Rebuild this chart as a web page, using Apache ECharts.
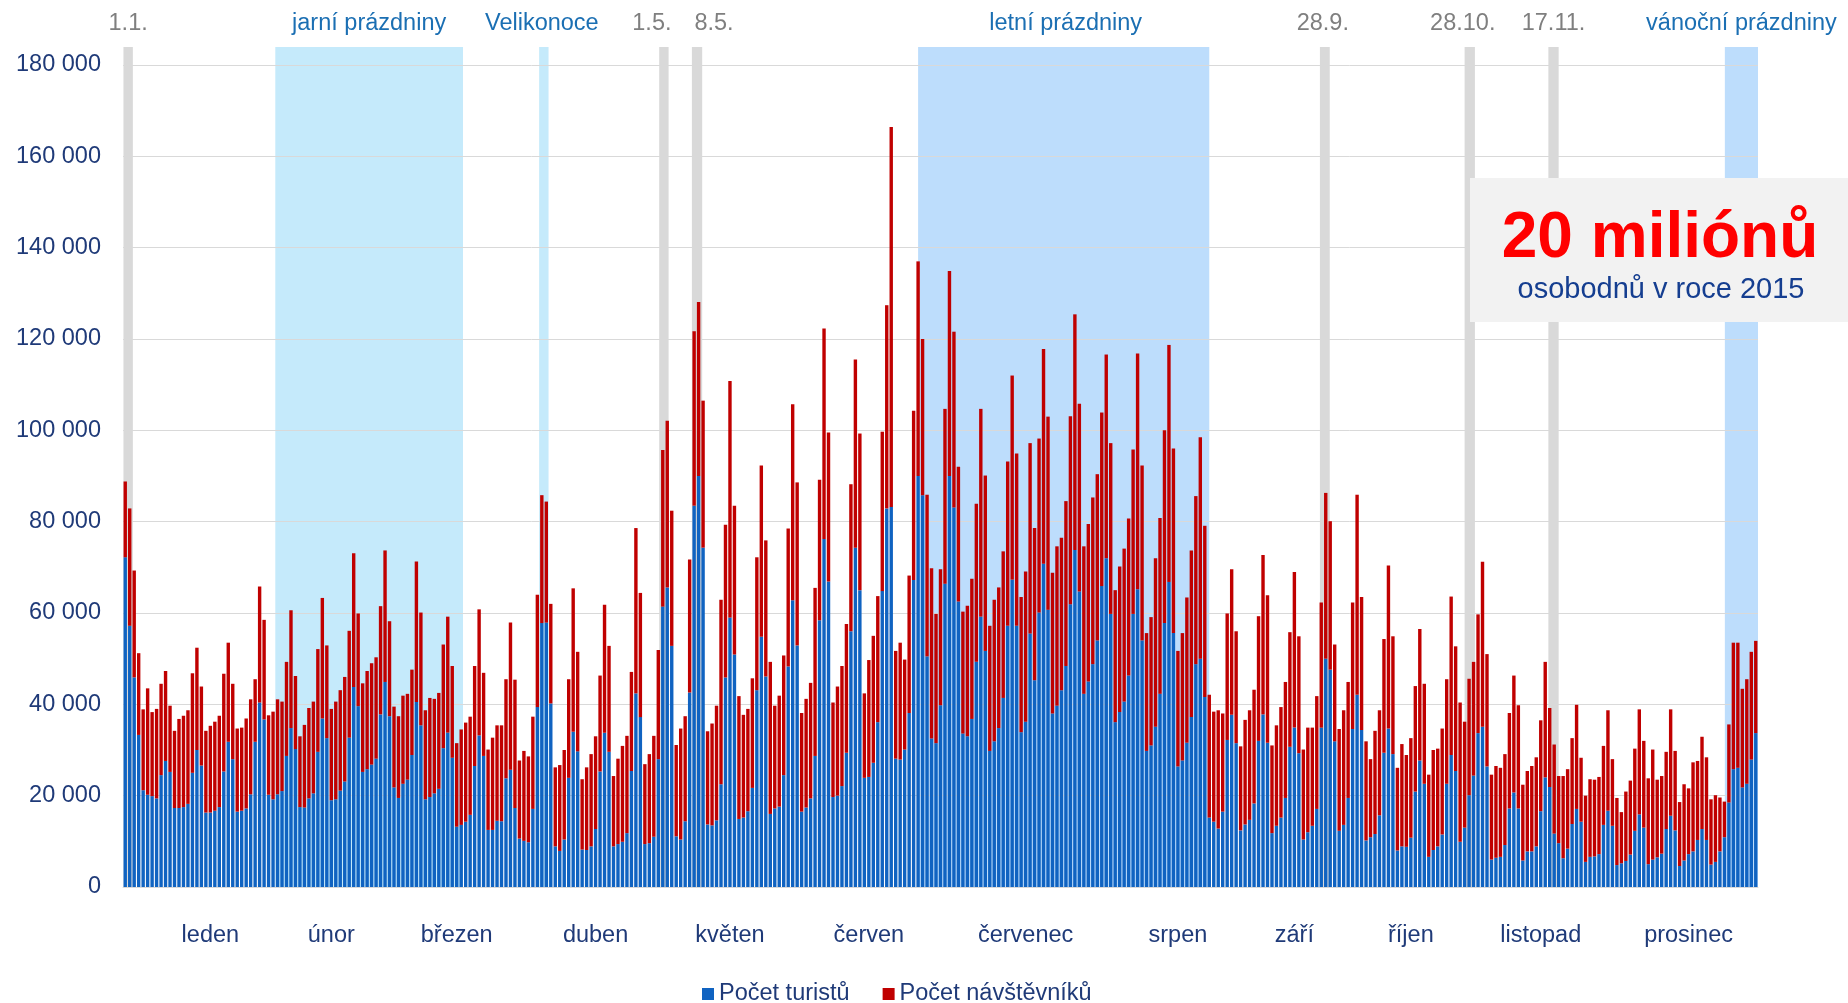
<!DOCTYPE html>
<html>
<head>
<meta charset="utf-8">
<style>
  html, body { margin: 0; padding: 0; background: #fff; }
  #chart { width: 1848px; height: 1003px; }
</style>
</head>
<body>
<div id="chart"></div>
<script src="https://cdn.jsdelivr.net/npm/echarts@6/dist/echarts.min.js"></script>
<script>
// měsíce a jejich délky (2015)
const monthNames = ['leden', 'únor', 'březen', 'duben', 'květen', 'červen', 'červenec', 'srpen', 'září', 'říjen', 'listopad', 'prosinec'];
const monthDays = [31, 28, 31, 30, 31, 30, 31, 31, 30, 31, 30, 31];
// den (index), pod kterým je popisek měsíce
const monthLabelDay = [19, 46, 74, 105, 135, 166, 201, 235, 261, 287, 316, 349];

// Počet turistů (modrá část)
const turiste = [
  // leden
  72200, 57200, 45900, 33300, 21200, 20200, 19900, 19400, 24500, 27600, 25200, 17300, 17300, 17500, 18200, 25000,
  30000, 26600, 16300, 16300, 16700, 17500, 25300, 31800, 28000, 16500, 16700, 17200, 20300, 31800, 40400,
  // únor
  36700, 20200, 19200, 20300, 21000, 28700, 34800, 30200, 17500, 17400, 19400, 20500, 29600, 36900,
  32600, 19000, 19200, 21100, 23100, 32700, 43800, 39600, 25200, 25800, 26800, 28100, 37800, 44900,
  // březen
  37400, 21800, 19500, 22600, 23500, 28900, 40500, 35400, 19200, 19700, 20500, 21500, 30400, 33800, 28300, 13200,
  13600, 14300, 15800, 26500, 33200, 28700, 12500, 12500, 14500, 14400, 23800, 25700, 17300, 10600, 10100,
  // duben
  9800, 17100, 39400, 57800, 57900, 40200, 8900, 7900, 10400, 23900, 34000, 29700, 8200, 8100, 8900,
  12700, 25300, 33800, 29600, 8900, 9400, 9900, 11800, 25400, 42400, 37200, 9400, 9600, 11000, 28000,
  // květen
  61400, 65600, 52800, 11100, 10400, 14400, 42600, 83500, 90000, 74300, 13700, 13500, 14600, 22500, 45900, 59000,
  50900, 14900, 15200, 16600, 21700, 43100, 54800, 46100, 16000, 17200, 17600, 24500, 48300, 62800, 52900,
  // červen
  16500, 17400, 19400, 28700, 58400, 76200, 66900, 19700, 20000, 22100, 29400, 56000, 74300, 65000, 23900,
  24100, 27200, 36100, 64800, 82900, 83200, 28100, 27900, 30100, 38100, 67200, 90000, 85800, 50500, 32500,
  // červenec
  31500, 39800, 66400, 90000, 83100, 62500, 33600, 33000, 36800, 49300, 59200, 51700, 29800, 31900, 34800, 41400,
  57200, 67300, 57200, 33900, 36200, 55500, 45300, 60100, 70800, 60700, 38000, 39700, 43100, 48400, 61900,
  // srpen
  73800, 64700, 42300, 45000, 48800, 54000, 65900, 72000, 59800, 36100, 38300, 40600, 46300, 59800, 65200, 54000,
  29800, 31000, 35100, 42300, 57800, 66800, 55600, 26400, 27700, 31600, 37200, 48800, 50000, 41600, 15200,
  // září
  14300, 12800, 16500, 32200, 37700, 31500, 12400, 13700, 14700, 18300, 32000, 37800, 31600, 11800, 13400,
  15200, 19500, 30700, 34900, 29300, 10400, 12000, 13400, 17100, 34900, 50000, 47600, 31900, 12300, 13600,
  // říjen
  19500, 34600, 42100, 34400, 10200, 10900, 11600, 15700, 29400, 34700, 29100, 8000, 8900, 8800, 10800, 20900,
  27700, 22600, 6600, 8100, 8900, 11500, 22600, 28900, 25400, 9900, 13000, 20100, 24400, 33700, 35100,
  // listopad
  26400, 6000, 6400, 6600, 9200, 17200, 20700, 17200, 5800, 7800, 7800, 8900, 16600, 24000, 21900,
  11700, 9600, 6300, 8400, 13800, 17100, 14300, 5500, 6600, 6700, 7200, 13600, 16700, 13400, 4800,
  // prosinec
  5200, 5700, 7100, 12300, 15900, 13000, 5000, 6000, 6500, 7300, 12700, 15600, 12400, 4600, 5800, 7200,
  7800, 10300, 12700, 10300, 4900, 5500, 7800, 10900, 18500, 25800, 26100, 21800, 22600, 27900, 33700
];

// Počet návštěvníků (červená část nad turisty)
const navstevnici = [
  // leden
  16600, 25700, 23400, 17900, 17700, 23300, 18400, 19600, 20000, 19700, 14500, 16900, 19500, 20000, 20500, 21800,
  22400, 17300, 17900, 19000, 19500, 20000, 21400, 21700, 16500, 18200, 18200, 19700, 20800, 13700, 25400,
  // únor
  21800, 17400, 19200, 20800, 19600, 20600, 25800, 16000, 15500, 18100, 19800, 20100, 22500, 26400,
  20300, 20000, 21400, 22000, 22900, 23400, 29300, 20300, 19400, 21500, 22200, 22200, 23700, 28800,
  // březen
  20800, 17700, 17900, 19300, 18800, 18700, 30800, 24700, 19500, 21700, 20700, 21000, 22700, 25400, 20100, 18300,
  20900, 21700, 21500, 21900, 27600, 18200, 17600, 20200, 20900, 21000, 21700, 32200, 28100, 17100, 19700,
  // duben
  18800, 20200, 24600, 28000, 26500, 21800, 17300, 18800, 19600, 21600, 31400, 21800, 15400, 18100, 20200,
  20300, 21000, 28000, 23200, 15400, 18700, 21000, 21300, 21700, 36200, 27200, 17500, 19500, 22100, 23900,
  // květen
  34300, 36500, 29600, 20000, 24300, 23000, 29100, 38200, 38100, 32200, 20400, 22300, 25100, 40400, 33400, 51800,
  32600, 26900, 22500, 22400, 24000, 29100, 37500, 29800, 33300, 22500, 24300, 26200, 30200, 42900, 35700,
  // červen
  21600, 23800, 25300, 36800, 30800, 46100, 32600, 20700, 23900, 26300, 28200, 32200, 41200, 34300, 18500,
  25600, 27800, 27600, 34900, 44500, 83200, 23600, 25600, 19700, 30100, 37100, 47000, 34200, 35400, 37300,
  // červenec
  28300, 29800, 38300, 44900, 38500, 29500, 26700, 28600, 30700, 34600, 45500, 38400, 27400, 31000, 30800, 32100,
  36000, 44700, 37700, 29600, 32900, 41700, 33300, 38100, 47000, 42300, 30800, 34900, 33400, 36100, 41200,
  // srpen
  51600, 41100, 32300, 34500, 36500, 36400, 38000, 44600, 37400, 28900, 31900, 33500, 34400, 36000, 51600, 38300,
  25800, 28100, 36900, 38500, 42200, 51900, 40400, 25300, 27900, 31800, 36500, 36800, 48500, 37500, 26900,
  // září
  24100, 25900, 21500, 27700, 31900, 24500, 18400, 22900, 24000, 24900, 27300, 34900, 32300, 19200, 22000,
  24200, 25400, 25100, 34100, 25600, 19700, 22900, 21500, 24700, 27400, 36300, 32500, 21200, 22300, 25100,
  // říjen
  25400, 27700, 43800, 29100, 21700, 17100, 22600, 23000, 24900, 35700, 25800, 18100, 22400, 20100, 21800, 23100,
  28800, 21900, 18000, 21900, 21400, 23200, 22900, 34700, 27300, 30500, 23200, 25500, 24900, 26000, 36100,
  // listopad
  24600, 18600, 20100, 19500, 19900, 20900, 25600, 22600, 16600, 17600, 18700, 19500, 19900, 25300, 17300,
  19500, 14700, 18000, 17400, 18800, 22800, 14000, 14500, 17000, 16800, 16900, 17300, 22000, 14600, 14700,
  // prosinec
  11200, 15200, 16200, 18000, 23000, 19000, 18800, 24100, 17000, 17000, 16900, 23300, 17400, 14000, 16700, 14400,
  19500, 17300, 20200, 18100, 14300, 14600, 11800, 7800, 17100, 27700, 27400, 21600, 22900, 23600, 20200
];

// svátky a prázdniny, rozsah ve dnech od 1. 1.
const bandNames = ['1.1.', 'jarní prázdniny', 'Velikonoce', '1.5.', '8.5.', 'letní prázdniny', '28.9.', '28.10.', '17.11.', 'vánoční prázdniny'];
const bandFrom = [0.1, 34.0, 92.9, 119.7, 127.0, 177.5, 267.2, 299.5, 318.2, 357.6];
const bandTo = [2.2, 75.9, 95.0, 121.8, 129.3, 242.5, 269.4, 301.8, 320.5, 365];
const bandKind = ['svatek', 'jarni', 'jarni', 'svatek', 'svatek', 'letni', 'svatek', 'svatek', 'svatek', 'letni'];
const bandLabelDx = [0, 0, -2, -12, 17, 2, -2, -7, 0, 0];

const fontFamily = '"Liberation Sans", Arial, sans-serif';
const navy = '#1F3A78';

const categories = [];
monthDays.forEach((n, m) => {
  for (let d = 1; d <= n; d++) categories.push(d + '.' + (m + 1) + '.');
});
const labelAt = new Map(monthLabelDay.map((d, i) => [d, monthNames[i]]));

const bandStyle = {
  svatek: { area: '#D9D9D9', text: '#7F7F7F' },
  jarni: { area: '#C5EAFB', text: '#1B6FB3' },
  letni: { area: '#BDDDFC', text: '#1B6FB3' }
};
const bandAreas = bandNames.map((name, i) => [
  {
    name: name,
    xAxis: bandFrom[i],
    itemStyle: { color: bandStyle[bandKind[i]].area },
    label: { color: bandStyle[bandKind[i]].text, offset: [bandLabelDx[i], 0] }
  },
  { xAxis: bandTo[i] }
]);

const fmt = v => String(v).replace(/\B(?=(\d{3})+(?!\d))/g, ' ');

let myChart = echarts.init(document.getElementById('chart'));
let option = {
  animation: false,
  textStyle: { fontFamily: fontFamily },
  grid: [
    { left: 123, right: 90, top: 65, bottom: 116 },
    { left: 123, right: 90, top: 47, bottom: 116 }
  ],
  legend: {
    data: ['Počet turistů', 'Počet návštěvníků'],
    left: 697,
    top: 977,
    icon: 'rect',
    itemWidth: 12,
    itemHeight: 12,
    itemGap: 33,
    textStyle: { color: navy, fontSize: 23.5, fontFamily: fontFamily }
  },
  xAxis: [
    {
      type: 'category',
      gridIndex: 0,
      data: categories,
      z: 2,
      axisLine: { lineStyle: { color: '#D9D9D9' } },
      axisTick: { show: false },
      axisLabel: {
        interval: (i) => labelAt.has(i),
        formatter: (v, i) => labelAt.get(i) || '',
        color: navy,
        fontSize: 23.5,
        margin: 37
      }
    },
    { type: 'value', gridIndex: 1, min: 0, max: 365, show: false }
  ],
  yAxis: [
    {
      type: 'value',
      gridIndex: 0,
      min: 0,
      max: 180000,
      interval: 20000,
      z: 2,
      axisLine: { show: false },
      axisTick: { show: false },
      splitLine: { lineStyle: { color: '#D9D9D9', width: 1 } },
      axisLabel: { color: navy, fontSize: 23.5, margin: 22, formatter: fmt }
    },
    { type: 'value', gridIndex: 1, min: 0, max: 1, show: false }
  ],
  series: [
    {
      name: 'pásy',
      type: 'line',
      xAxisIndex: 1,
      yAxisIndex: 1,
      data: [],
      silent: true,
      markArea: {
        silent: true,
        z: 1,
        label: { show: true, position: 'top', distance: 11, fontSize: 23.5, fontFamily: fontFamily },
        data: bandAreas
      }
    },
    {
      name: 'Počet turistů',
      type: 'bar',
      stack: 'osoby',
      z: 3,
      barCategoryGap: '24%',
      itemStyle: { color: '#1063C1' },
      data: turiste
    },
    {
      name: 'Počet návštěvníků',
      type: 'bar',
      stack: 'osoby',
      z: 3,
      itemStyle: { color: '#C00000' },
      data: navstevnici
    }
  ],
  graphic: [
    {
      type: 'rect',
      left: 1470,
      top: 178,
      z: 10,
      shape: { width: 378, height: 144 },
      style: { fill: '#F2F2F2' }
    },
    {
      type: 'text',
      x: 1660,
      y: 239,
      z: 11,
      style: {
        text: '20 miliónů',
        fill: '#FF0000',
        fontSize: 64,
        fontWeight: 'bold',
        fontFamily: fontFamily,
        align: 'center',
        verticalAlign: 'middle'
      }
    },
    {
      type: 'text',
      x: 1661,
      y: 290,
      z: 11,
      style: {
        text: 'osobodnů v roce 2015',
        fill: '#153E90',
        fontSize: 29,
        fontFamily: fontFamily,
        align: 'center',
        verticalAlign: 'middle'
      }
    }
  ]
};
myChart.setOption(option);
</script>
</body>
</html>
